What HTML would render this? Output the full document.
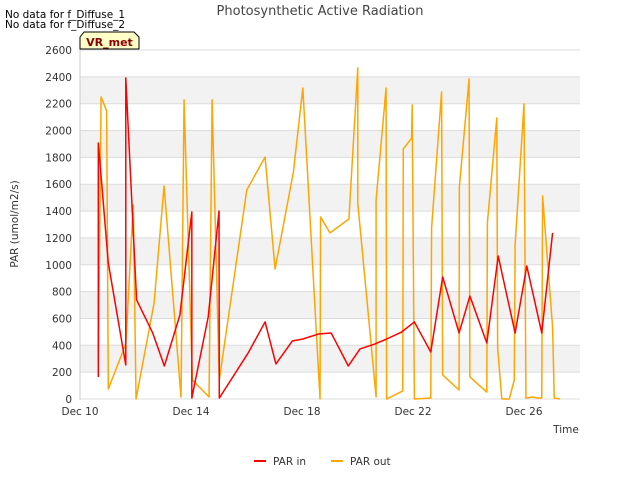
<!DOCTYPE html>
<html><head><meta charset="utf-8"><style>
body{margin:0;background:#fff;font-family:"Liberation Sans","DejaVu Sans",sans-serif;}
svg text{font-family:"DejaVu Sans","Liberation Sans",sans-serif;}
</style></head><body>
<svg id="c" width="640" height="480" xmlns="http://www.w3.org/2000/svg">
<text x="5" y="18" font-size="10.5" fill="#000">No data for f_Diffuse_1</text>
<text x="5" y="28" font-size="10.5" fill="#000">No data for f_Diffuse_2</text>
<text x="320" y="15" font-size="13" fill="#444" text-anchor="middle">Photosynthetic Active Radiation</text>
<g id="plot"></g>
<path d="M80,49 L80,37 L84,32 L134,32 L139,37 L139,49 Z" fill="#ffffc8" stroke="#000" stroke-width="1"/>
<text x="109.5" y="46" font-size="11" font-weight="bold" fill="#8b0000" text-anchor="middle">VR_met</text>
<text transform="translate(18,224) rotate(-90)" font-size="10.5" fill="#333" text-anchor="middle">PAR (umol/m2/s)</text>
<text x="566" y="433" font-size="10.5" fill="#333" text-anchor="middle">Time</text>
<g>
<line x1="254" y1="461" x2="266" y2="461" stroke="#ff0000" stroke-width="2"/>
<text x="273" y="465" font-size="10.5" fill="#333">PAR in</text></g>
<g>
<line x1="331" y1="461" x2="343" y2="461" stroke="#ffa500" stroke-width="2"/>
<text x="350" y="465" font-size="10.5" fill="#333">PAR out</text></g>
</svg>
<script>
const yTicks=[0,200,400,600,800,1000,1200,1400,1600,1800,2000,2200,2400,2600];
const xTickDays=[0,4,8,12,16];
const xTickLabels=["Dec 10","Dec 14","Dec 18","Dec 22","Dec 26"];
const inDays=[0.66,0.66,1.02,1.65,1.65,2.04,2.62,3.04,3.60,4.03,4.03,4.62,5.01,5.02,6.06,6.67,7.06,7.65,8.03,8.59,9.05,9.67,10.09,10.63,11.05,11.59,12.05,12.64,13.07,13.66,14.05,14.66,15.07,15.68,16.10,16.64,17.03];
const inVals=[164,1907,1013,253,2391,738,492,246,626,1393,7,611,1401,7,343,574,261,432,447,484,492,246,373,410,447,499,574,350,909,492,767,417,1065,492,991,492,1237];
const outDays=[0.66,0.76,0.96,1.02,1.65,1.92,2.02,2.67,3.03,3.64,3.75,4.05,4.65,4.76,5.02,6.01,6.67,7.03,7.69,8.03,8.65,8.67,9.01,9.69,10.01,10.01,10.67,10.67,11.03,11.05,11.63,11.65,11.95,11.97,12.05,12.64,12.67,13.03,13.07,13.66,13.67,14.02,14.05,14.66,14.68,15.02,15.05,15.20,15.47,15.65,15.68,16.00,16.07,16.32,16.5,16.64,16.67,17.03,17.09,17.30];
const outVals=[276,2250,2146,75,410,1445,0,715,1587,15,2228,142,15,2228,142,1557,1803,968,1691,2317,0,1356,1237,1341,2466,1460,15,1483,2317,0,60,1862,1944,2190,0,7,1274,2287,179,67,1579,2384,164,52,1311,2093,380,0,0,142,1147,2198,7,15,7,7,1512,536,7,0];
const X0=80,X1=580,Y0=399,Y1=50;
const xs=d=>X0+d*27.75;
const ys=v=>Y0-(v/2600)*(Y0-Y1);
const NS="http://www.w3.org/2000/svg";
const g=document.getElementById('plot');
function mk(t,a){const e=document.createElementNS(NS,t);for(const k in a)e.setAttribute(k,a[k]);g.appendChild(e);return e;}
for(let i=0;i<yTicks.length-1;i++){
  if(i%2===1){const r=mk('rect',{x:X0,y:ys(yTicks[i+1]),width:X1-X0,height:ys(yTicks[i])-ys(yTicks[i+1]),fill:'#f2f2f2'});
  
  }
}
yTicks.forEach(v=>{
  const l=mk('line',{x1:X0,x2:X1,y1:ys(v),y2:ys(v),stroke:'#dcdcdc','stroke-width':1});
  
  
  const t=mk('text',{x:X0-8,y:ys(v)+4,'font-size':10.5,fill:'#333','text-anchor':'end'});
  t.textContent=v;
  
  
});
const ax=mk('line',{x1:X0,x2:X0,y1:Y1,y2:Y0+1,stroke:'#ccc'});


xTickDays.forEach((d,i)=>{
  const t=mk('text',{x:xs(d),y:415,'font-size':10.5,fill:'#333','text-anchor':'middle'});
  t.textContent=xTickLabels[i];
  
  
});
function series(days,vals,col,name){
  const p=mk('polyline',{points:days.map((d,i)=>xs(d)+','+ys(vals[i])).join(' '),fill:'none',stroke:col,'stroke-width':1.5,'stroke-linejoin':'round'});
  
  
}
series(outDays,outVals,'#ffa500','par-out-line');
series(inDays,inVals,'#ff0000','par-in-line');
</script>
</body></html>
